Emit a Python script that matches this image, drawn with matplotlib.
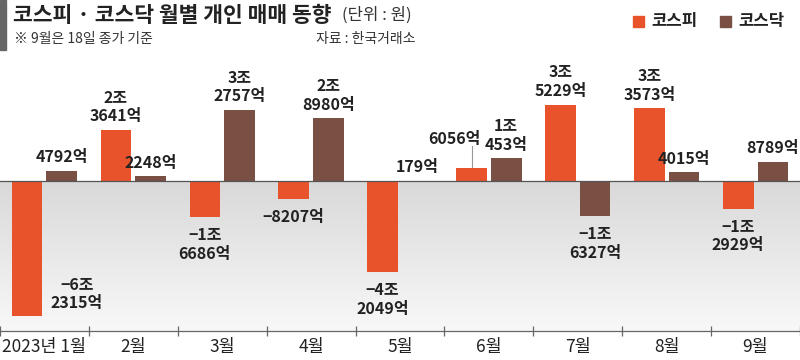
import numpy as np
import matplotlib.pyplot as plt
from matplotlib.patches import Rectangle
from matplotlib.colors import LinearSegmentedColormap

plt.rcParams['font.family'] = ['Noto Sans CJK KR', 'DejaVu Sans']

months = ['2023년 1월', '2월', '3월', '4월', '5월', '6월', '7월', '8월', '9월']
# 단위: 억원
kospi = [-62315, 23641, -16686, -8207, -42049, 6056, 35229, 33573, -12929]
kosdaq = [4792, 2248, 32757, 28980, 179, 10453, -16327, 4015, 8789]

c_kospi = '#e8532b'
c_kosdaq = '#7a5045'


def fmt(v):
    sign = '−' if v < 0 else ''
    v = abs(v)
    jo, eok = divmod(v, 10000)
    if jo:
        return f'{sign}{jo}조\n{eok}억'
    return f'{sign}{eok}억'


fig = plt.figure(figsize=(8, 3.6), dpi=100)
ax = fig.add_axes([0, 29 / 360, 1, 281 / 360])

x = np.arange(len(months))
w = 0.345
off = 0.195
ax.set_xlim(-0.5, len(months) - 0.5)
ax.set_ylim(-69100, 60400)

# gradient below zero line
grad = np.linspace(0, 1, 256).reshape(-1, 1)
ax.imshow(grad, cmap=LinearSegmentedColormap.from_list('g', ['#f8f8f8', '#d9d9d9']),
          aspect='auto', extent=(-0.5, len(months) - 0.5, -69100, 0),
          origin='lower', zorder=0)

ax.bar(x - off, kospi, w, color=c_kospi, zorder=2)
ax.bar(x + off, kosdaq, w, color=c_kosdaq, zorder=2)
ax.axhline(0, color='#555555', lw=0.9, zorder=3)

lab = dict(fontsize=11.5, fontweight='bold', ha='center', linespacing=1.2,
           color='#222222')
for i in range(len(months)):
    for val, dx in ((kospi[i], -off), (kosdaq[i], off)):
        xx = x[i] + dx
        if i == 0 and val < 0:
            ax.annotate(fmt(val), (xx, val), xytext=(36, 16),
                        textcoords='offset points', va='center', **lab)
        elif i == 5 and dx < 0:
            ax.plot([xx, xx], [val, val + 10000], color='#999999', lw=0.8,
                    zorder=1)
            ax.annotate(fmt(val), (xx, val), xytext=(-12, 15),
                        textcoords='offset points', va='bottom', **lab)
        elif val >= 0:
            ax.annotate(fmt(val), (xx, val), xytext=(0, 4),
                        textcoords='offset points', va='bottom', **lab)
        else:
            ax.annotate(fmt(val), (xx, val), xytext=(0, -7),
                        textcoords='offset points', va='top', **lab)

for s in ['top', 'left', 'right']:
    ax.spines[s].set_visible(False)
ax.spines['bottom'].set_color('#666666')
ax.spines['bottom'].set_linewidth(0.9)
ax.set_yticks([])
ax.set_xticks(np.arange(-0.5, len(months)), minor=False)
ax.set_xticklabels([])
ax.tick_params(axis='x', direction='inout', length=7, color='#666666', width=0.9)
ax.set_xticks(x, minor=True)
ax.set_xticklabels(months, minor=True)
ax.tick_params(axis='x', which='minor', length=0, labelsize=12.5, pad=5,
               labelcolor='#222222')

# header
fig.patches.append(Rectangle((0, 310 / 360), 6 / 800, 50 / 360,
                             transform=fig.transFigure, color='#666666'))
fig.text(13 / 800, 1 - 15 / 360, '코스피 · 코스닥 월별 개인 매매 동향', fontsize=15.5,
         fontweight='black', va='center', color='#222222')
fig.text(342 / 800, 1 - 15 / 360, '(단위 : 원)', fontsize=12, va='center',
         color='#333333')
fig.text(14 / 800, 1 - 39 / 360, '※ 9월은 18일 종가 기준', fontsize=10, va='center',
         color='#333333')
fig.text(415 / 800, 1 - 39 / 360, '자료 : 한국거래소', fontsize=10, va='center',
         ha='right', color='#333333')

# legend
for xs, c, t in ((633, c_kospi, '코스피'), (720, c_kosdaq, '코스닥')):
    fig.patches.append(Rectangle((xs / 800, 1 - 27 / 360), 11 / 800, 11 / 360,
                                 transform=fig.transFigure, color=c))
    fig.text((xs + 18) / 800, 1 - 21 / 360, t, fontsize=12, fontweight='bold',
             va='center', color='#222222')

fig.savefig('out.png', dpi=100)
